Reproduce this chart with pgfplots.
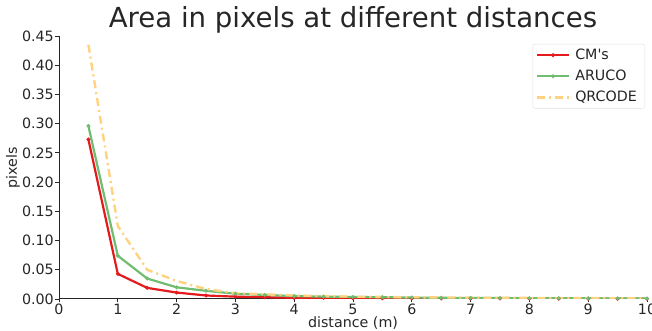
\documentclass[border=0pt]{standalone}
\usepackage{pgfplots}
\pgfplotsset{compat=1.18}
\usepackage{fontspec}
\setmainfont{DejaVu Sans}[Ligatures=TeXOff]
\definecolor{cmred}{RGB}{228,26,28}
\definecolor{argreen}{RGB}{112,188,112}
\definecolor{qrorange}{RGB}{255,210,128}
\definecolor{axgray}{RGB}{38,38,38}
\begin{document}
\begin{tikzpicture}
\begin{axis}[
  name=ax,
  scale only axis,
  width=588bp, height=263bp,
  xmin=0, xmax=10, ymin=0, ymax=0.45,
  axis x line*=bottom, axis y line*=left,
  axis line style={axgray, line width=1pt, -},
  xtick={0,1,...,10},
  ytick={0,0.05,...,0.45},
  tick style={axgray, line width=0.9pt},
  tick align=outside,
  major tick length=3.5bp,
  /pgf/number format/assume math mode=true,
  yticklabel style={/pgf/number format/fixed, /pgf/number format/fixed zerofill, /pgf/number format/precision=2, font=\fontsize{14.3}{15}\selectfont, text=axgray, inner xsep=1.5bp},
  xticklabel style={font=\fontsize{14.3}{15}\selectfont, text=axgray, inner ysep=1bp},
  scaled y ticks=false,
  xlabel={distance (m)},
  ylabel={pixels},
  xlabel style={font=\fontsize{14.3}{15}\selectfont, text=axgray, at={(axis description cs:0.5,0)}, anchor=base, yshift=-29bp},
  ylabel style={font=\fontsize{14.3}{15}\selectfont, text=axgray, at={(axis description cs:-0.0782,0.5)}, anchor=center},
  title={Area in pixels at different distances},
  title style={font=\fontsize{27.7}{30}\selectfont, text=axgray, anchor=base, yshift=3bp},
  legend style={at={(1,1)}, anchor=north east, xshift=-2bp, yshift=-8bp, draw=black!12, rounded corners=2pt, font=\fontsize{14.3}{15}\selectfont, text=axgray, row sep=5bp, inner xsep=3bp, inner ysep=3bp,
    nodes={inner xsep=5bp}},
  legend cell align=left,
  legend image code/.code={\draw[mark repeat=2, mark phase=2, #1] plot coordinates {(0bp,0bp) (16bp,0bp) (32bp,0bp)};},
]
\addplot[cmred, line width=2.2pt, mark=*, mark size=0.6pt] coordinates {
(0.5,0.273) (1,0.043) (1.5,0.019) (2,0.011) (2.5,0.006) (3,0.004) (3.5,0.003) (4,0.002) (4.5,0.0018) (5,0.0015) (5.5,0.0012) (6,0.001) (6.5,0.0009) (7,0.0008) (7.5,0.0007) (8,0.0006) (8.5,0.0005) (9,0.0005) (9.5,0.0004) (10,0.0004)};
\addlegendentry{CM's}
\addplot[argreen, line width=2.2pt, mark=*, mark size=0.6pt] coordinates {
(0.5,0.296) (1,0.074) (1.5,0.035) (2,0.020) (2.5,0.014) (3,0.009) (3.5,0.007) (4,0.005) (4.5,0.004) (5,0.0035) (5.5,0.003) (6,0.0025) (6.5,0.002) (7,0.0018) (7.5,0.0016) (8,0.0014) (8.5,0.0012) (9,0.0011) (9.5,0.001) (10,0.0009)};
\addlegendentry{ARUCO}
\addplot[qrorange, line width=2.4pt, dash pattern=on 8bp off 4bp on 2bp off 4bp] coordinates {
(0.5,0.435) (1,0.125) (1.5,0.050) (2,0.031) (2.5,0.017) (3,0.010) (3.5,0.008) (4,0.006) (4.5,0.005) (5,0.004) (5.5,0.0035) (6,0.003) (6.5,0.0027) (7,0.0024) (7.5,0.002) (8,0.0018) (8.5,0.0016) (9,0.0014) (9.5,0.0013) (10,0.0012)};
\addlegendentry{QRCODE}
\end{axis}
\pgfresetboundingbox
\path[use as bounding box] ([xshift=-59bp,yshift=-32bp]ax.south west) rectangle ([xshift=5bp,yshift=36bp]ax.north east);
\end{tikzpicture}
\end{document}
